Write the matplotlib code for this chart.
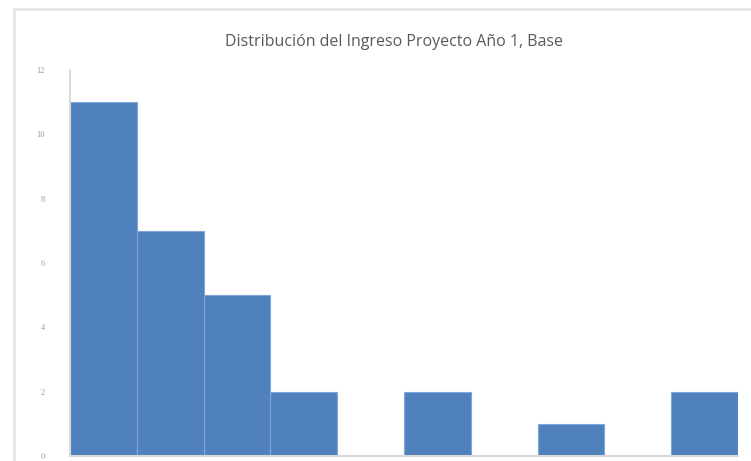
import matplotlib
matplotlib.use("Agg")
import matplotlib.pyplot as plt
from matplotlib.patches import Rectangle

title = "Distribución del Ingreso Proyecto Año 1, Base"
bins = list(range(10))
counts = [11, 7, 5, 2, 0, 2, 0, 1, 0, 2]
yticks = [0, 2, 4, 6, 8, 10, 12]

W, H = 751, 461
fig = plt.figure(figsize=(W / 100, H / 100), dpi=100)
fig.patch.set_facecolor("white")

# outer chart frame
fig.patches.append(Rectangle((14 / W, -0.05), 1.2, 1 - 9 / H + 0.05, transform=fig.transFigure,
                             fill=False, edgecolor="#e3e3e3", linewidth=1.8, figure=fig))

left, right = 70 / W, 738 / W
bottom, top = (H - 456) / H, (H - 70) / H
ax = fig.add_axes([left, bottom, right - left, top - bottom])
ax.bar(bins, counts, width=1, align="edge", color="#4f81bd", edgecolor="#7fa6d6", linewidth=0.8)
ax.set_xlim(0, 10)
ax.set_ylim(0, 12)
ax.set_yticks(yticks)
ax.set_yticklabels([str(v) for v in yticks], fontsize=6, color="#9a9a9a", family="Liberation Serif")
ax.tick_params(axis="y", length=0, pad=18)
ax.set_xticks([])
for s in ["top", "right"]:
    ax.spines[s].set_visible(False)
ax.spines["left"].set_color("#d9d9d9")
ax.spines["left"].set_linewidth(1.5)
ax.spines["bottom"].set_color("#d9d9d9")
ax.spines["bottom"].set_linewidth(1.5)

fig.text(394 / W, 1 - 42 / H, title, ha="center", va="center", fontsize=11.5,
         color="#595959", family="Open Sans")

fig.savefig("out.png", dpi=100)
